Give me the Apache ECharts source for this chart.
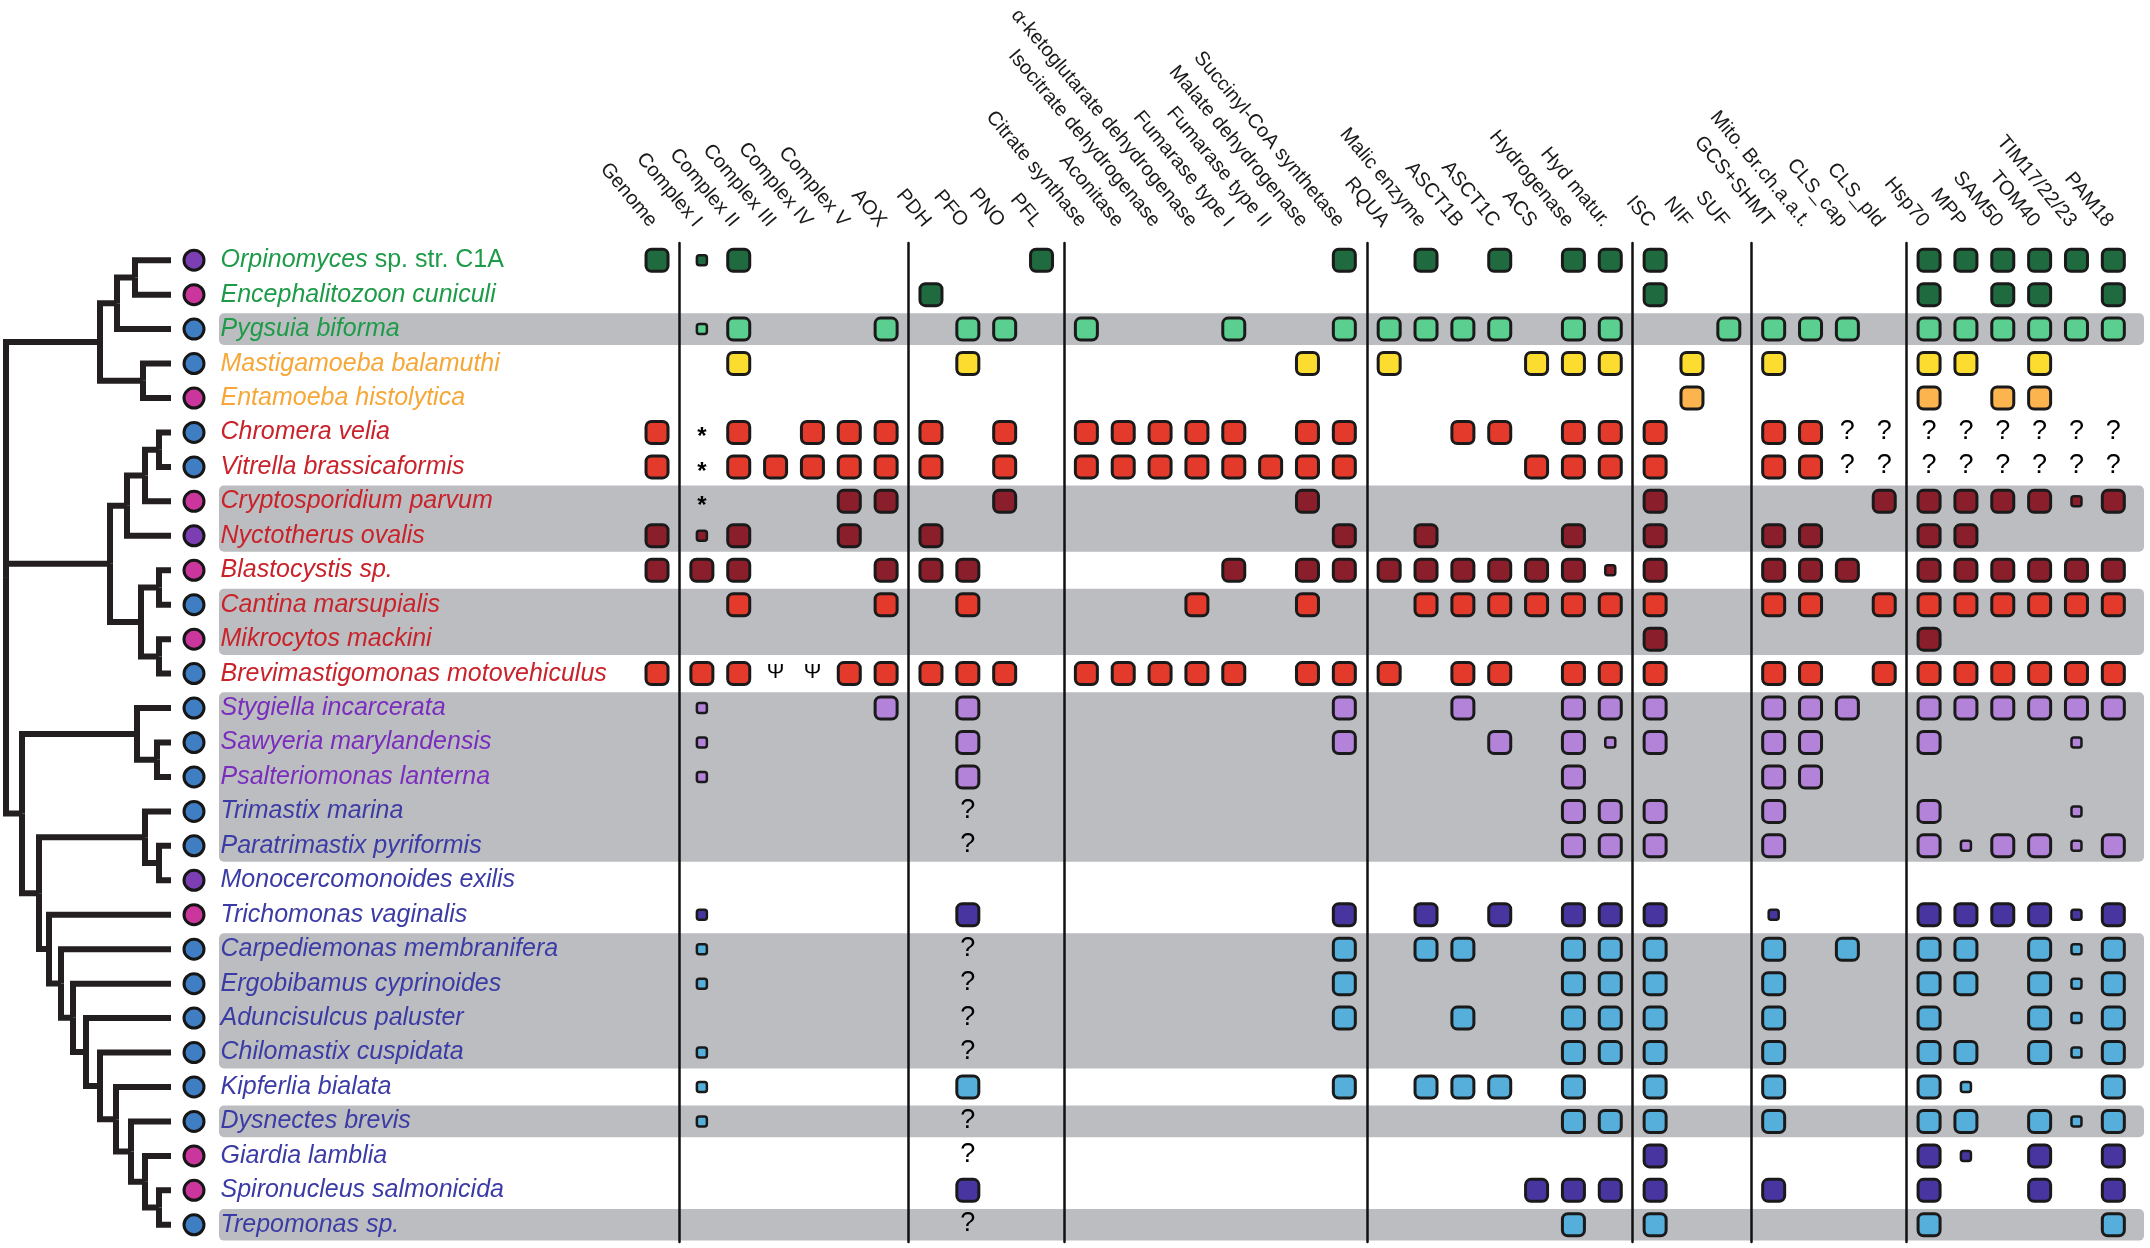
<!DOCTYPE html>
<html>
<head>
<meta charset="utf-8">
<title>Mitochondrial features across eukaryotes</title>
<script src="https://cdn.jsdelivr.net/npm/echarts/dist/echarts.min.js"></script>
<style>
  html, body { margin: 0; padding: 0; background: #fff; }
  #chart { width: 2150px; height: 1248px; }
</style>
</head>
<body>
<div id="chart"></div>
<script>
// column headers, in the order of the matrix, and how they are grouped by the black rules
const columns = ['Genome', 'Complex I', 'Complex II', 'Complex III', 'Complex IV', 'Complex V', 'AOX',
  'PDH', 'PFO', 'PNO', 'PFL',
  'Citrate synthase', 'Aconitase', 'Isocitrate dehydrogenase', 'α-ketoglutarate dehydrogenase',
  'Fumarase type I', 'Fumarase type II', 'Malate dehydrogenase', 'Succinyl-CoA synthetase',
  'RQUA', 'Malic enzyme', 'ASCT1B', 'ASCT1C', 'ACS', 'Hydrogenase', 'Hyd matur.',
  'ISC', 'NIF', 'SUF',
  'GCS+SHMT', 'Mito. Br.ch.a.a.t.', 'CLS_cap', 'CLS_pld',
  'Hsp70', 'MPP', 'SAM50', 'TOM40', 'TIM17/22/23', 'PAM18'];
const groupSizes = [1, 6, 4, 8, 7, 3, 4, 6];

const species = ['Orpinomyces sp. str. C1A', 'Encephalitozoon cuniculi', 'Pygsuia biforma',
  'Mastigamoeba balamuthi', 'Entamoeba histolytica', 'Chromera velia', 'Vitrella brassicaformis',
  'Cryptosporidium parvum', 'Nyctotherus ovalis', 'Blastocystis sp.', 'Cantina marsupialis',
  'Mikrocytos mackini', 'Brevimastigomonas motovehiculus', 'Stygiella incarcerata',
  'Sawyeria marylandensis', 'Psalteriomonas lanterna', 'Trimastix marina', 'Paratrimastix pyriformis',
  'Monocercomonoides exilis', 'Trichomonas vaginalis', 'Carpediemonas membranifera',
  'Ergobibamus cyprinoides', 'Aduncisulcus paluster', 'Chilomastix cuspidata', 'Kipferlia bialata',
  'Dysnectes brevis', 'Giardia lamblia', 'Spironucleus salmonicida', 'Trepomonas sp.'];

// F = present, s = partial (small square), * / Y (psi) / ? = annotations, . = absent
const presence = [
  'F|sF....|...F|.......F|.F.F.FF|F..|....|FFFFFF',
  '.|......|F...|........|.......|F..|....|F.FF.F',
  '.|sF...F|.FF.|F...F..F|FFFF.FF|..F|FFF.|FFFFFF',
  '.|.F....|.F..|......F.|F...FFF|.F.|F...|FF.F..',
  '.|......|....|........|.......|.F.|....|F.FF..',
  'F|*F.FFF|F.F.|FFFFF.FF|..FF.FF|F..|FF??|??????',
  'F|*FFFFF|F.F.|FFFFFFFF|....FFF|F..|FF??|??????',
  '.|*...FF|..F.|......F.|.......|F..|...F|FFFFsF',
  'F|sF..F.|F...|.......F|.F...F.|F..|FF..|FF....',
  'F|FF...F|FF..|....F.FF|FFFFFFs|F..|FFF.|FFFFFF',
  '.|.F...F|.F..|...F..F.|.FFFFFF|F..|FF.F|FFFFFF',
  '.|......|....|........|.......|F..|....|F.....',
  'F|FFYYFF|FFF.|FFFFF.FF|F.FF.FF|F..|FF.F|FFFFFF',
  '.|s....F|.F..|.......F|..F..FF|F..|FFF.|FFFFFF',
  '.|s.....|.F..|.......F|...F.Fs|F..|FF..|F...s.',
  '.|s.....|.F..|........|.....F.|...|FF..|......',
  '.|......|.?..|........|.....FF|F..|F...|F...s.',
  '.|......|.?..|........|.....FF|F..|F...|FsFFsF',
  '.|......|....|........|.......|...|....|......',
  '.|s.....|.F..|.......F|.F.F.FF|F..|s...|FFFFsF',
  '.|s.....|.?..|.......F|.FF..FF|F..|F.F.|FF.FsF',
  '.|s.....|.?..|.......F|.....FF|F..|F...|FF.FsF',
  '.|......|.?..|.......F|..F..FF|F..|F...|F..FsF',
  '.|s.....|.?..|........|.....FF|F..|F...|FF.FsF',
  '.|s.....|.F..|.......F|.FFF.F.|F..|F...|Fs...F',
  '.|s.....|.?..|........|.....FF|F..|F...|FF.FsF',
  '.|......|.?..|........|.......|F..|....|Fs.F.F',
  '.|......|.F..|........|....FFF|F..|F...|F..F.F',
  '.|......|.?..|........|.....F.|F..|....|F....F'
];

const squareColor = ['#1f6b3f', '#1f6b3f', '#5bcf8f', '#fcdc2e', '#fbb44e', '#e33a2b', '#e33a2b',
  '#8a1f2b', '#8a1f2b', '#8a1f2b', '#e33a2b', '#8a1f2b', '#e33a2b', '#b283d8', '#b283d8', '#b283d8',
  '#b283d8', '#b283d8', '#b283d8', '#4935a0', '#56aedb', '#56aedb', '#56aedb', '#56aedb', '#56aedb',
  '#56aedb', '#4935a0', '#4935a0', '#56aedb'];
const nameColor = ['#1e9b48', '#1e9b48', '#1e9b48', '#f6a737', '#f6a737', '#c9222a', '#c9222a',
  '#c9222a', '#c9222a', '#c9222a', '#c9222a', '#c9222a', '#c9222a', '#7a2dbd', '#7a2dbd', '#7a2dbd',
  '#3b3ba5', '#3b3ba5', '#3b3ba5', '#3b3ba5', '#3b3ba5', '#3b3ba5', '#3b3ba5', '#3b3ba5', '#3b3ba5',
  '#3b3ba5', '#3b3ba5', '#3b3ba5', '#3b3ba5'];
// P = purple, M = magenta, B = blue leaf dots
const leafType = 'PMBBMBBMPMBMBBBBBBPMBBBBBBMMB';
const leafColors = { P: '#7b3fb3', M: '#cb369c', B: '#3f7ec2' };
const shaded = [0, 0, 1, 0, 0, 0, 0, 1, 1, 0, 1, 1, 0, 1, 1, 1, 1, 1, 0, 0, 1, 1, 1, 1, 0, 1, 0, 0, 1];

// tree topology; x = depth of each node, leaves are species indices
const tree = { x: 6, kids: [
  { x: 100, kids: [{ x: 117, kids: [{ x: 135, kids: [0, 1] }, 2] }, { x: 143, kids: [3, 4] }] },
  { x: 110, kids: [
    { x: 127, kids: [{ x: 145, kids: [{ x: 159, kids: [5, 6] }, 7] }, 8] },
    { x: 141, kids: [{ x: 159, kids: [9, 10] }, { x: 159, kids: [11, 12] }] }
  ] },
  { x: 22, kids: [
    { x: 137, kids: [13, { x: 157, kids: [14, 15] }] },
    { x: 39, kids: [
      { x: 145, kids: [16, { x: 159, kids: [17, 18] }] },
      { x: 49, kids: [19, { x: 61, kids: [20, { x: 73, kids: [21, { x: 86, kids: [22,
        { x: 100, kids: [23, { x: 116, kids: [24, { x: 131, kids: [25,
          { x: 145, kids: [26, { x: 159, kids: [27, 28] }] }] }] }] }] }] }] }] }
    ] }
  ] }
] };
const tipX = 171;

// ---- layout ----
const plotTop = 243, plotH = 999;
const cell = 36.85, gap = 8, matrixLeft = 638.6;
const font = 'Liberation Sans, Arial, sans-serif';

// tree segments
const treeLines = [];
function place(node) {
  if (typeof node === 'number') return { y: node, x: tipX };
  const kids = node.kids.map(place);
  const y = (kids[0].y + kids[kids.length - 1].y) / 2;
  kids.forEach(k => {
    treeLines.push({ coords: [[node.x, y], [node.x, k.y], [k.x, k.y]] });
  });
  return { y: y, x: node.x };
}
place(tree);

// grey bands from runs of shaded rows
const bands = [];
shaded.forEach((s, i) => {
  if (!s) return;
  if (bands.length && bands[bands.length - 1][1] === i - 1) bands[bands.length - 1][1] = i;
  else bands.push([i, i]);
});

const grids = [
  { left: 0, top: plotTop, width: 194, height: plotH, outerBoundsMode: 'none' },
  { left: 219, right: 6, top: plotTop, height: plotH, outerBoundsMode: 'none' }
];
const xAxes = [
  { gridIndex: 0, type: 'value', min: 0, max: 194, show: false },
  { gridIndex: 1, type: 'value', min: 0, max: 1, show: false }
];
const yAxes = [
  { gridIndex: 0, type: 'value', min: -0.5, max: species.length - 0.5, inverse: true, show: false },
  { gridIndex: 1, type: 'value', min: -0.5, max: species.length - 0.5, inverse: true, show: false }
];

const series = [
  {
    type: 'custom', xAxisIndex: 1, yAxisIndex: 1, z: 1, silent: true,
    data: bands,
    encode: { y: [0, 1] },
    renderItem: function (params, api) {
      const p0 = api.coord([0, api.value(0)]);
      const p1 = api.coord([1, api.value(1)]);
      const half = api.size([0, 1])[1] * 0.46;
      return {
        type: 'rect',
        shape: { x: p0[0], y: p0[1] - half, width: p1[0] - p0[0], height: p1[1] - p0[1] + 2 * half, r: 5 },
        style: { fill: '#bcbdc0' }
      };
    }
  },
  {
    type: 'lines', coordinateSystem: 'cartesian2d', xAxisIndex: 0, yAxisIndex: 0,
    polyline: true, silent: true, z: 2,
    lineStyle: { color: '#231f20', width: 6, opacity: 1, join: 'miter', cap: 'butt' },
    data: treeLines
  },
  {
    type: 'scatter', xAxisIndex: 0, yAxisIndex: 0, clip: false, silent: true, z: 4,
    symbol: 'circle', symbolSize: 20,
    itemStyle: { borderColor: '#161616', borderWidth: 3, opacity: 1 },
    label: { show: true, position: 'right', distance: 15 },
    data: species.map((s, i) => {
      const cut = s.indexOf(' sp. str.');
      const text = cut > 0 ? '{i|' + s.slice(0, cut) + '}{n|' + s.slice(cut) + '}' : '{i|' + s + '}';
      return {
        value: [194, i],
        itemStyle: { color: leafColors[leafType[i]] },
        label: {
          formatter: text,
          rich: {
            i: { fontFamily: font, fontSize: 25, fontStyle: 'italic', color: nameColor[i] },
            n: { fontFamily: font, fontSize: 25, fontStyle: 'normal', color: nameColor[i] }
          }
        }
      };
    })
  }
];

// one grid per column group
let start = 0, left = matrixLeft;
groupSizes.forEach((n, g) => {
  const cols = columns.slice(start, start + n);
  const gi = grids.length;
  grids.push({ left: left, top: plotTop, width: n * cell, height: plotH, outerBoundsMode: 'none' });
  xAxes.push({
    gridIndex: gi, type: 'category', data: cols, position: 'top',
    axisLine: { show: false }, axisTick: { show: false }, splitLine: { show: false },
    axisLabel: {
      interval: 0, rotate: 50, margin: 14, padding: [0, 6, 0, 0],
      fontSize: 20, fontFamily: font, color: '#1a1a1a'
    }
  });
  yAxes.push({
    gridIndex: gi, type: 'category', data: species, inverse: true, offset: gap / 2, z: 10,
    axisLabel: { show: false }, axisTick: { show: false }, splitLine: { show: false },
    axisLine: { show: g > 0, lineStyle: { color: '#111', width: 2.5 } }
  });
  const data = [];
  presence.forEach((row, r) => {
    const marks = row.split('|')[g];
    for (let c = 0; c < n; c++) {
      const m = marks[c];
      if (m === '.') continue;
      const item = { value: [cols[c], species[r]] };
      if (m === 'F' || m === 's') {
        item.symbol = 'roundRect';
        item.symbolSize = m === 'F' ? 22 : 10;
        item.itemStyle = { color: squareColor[r], borderColor: '#1a1a1a', borderWidth: m === 'F' ? 3 : 2.5, opacity: 1 };
      } else {
        item.symbol = 'rect';
        item.symbolSize = 1;
        item.itemStyle = { color: 'rgba(0,0,0,0)', borderWidth: 0, opacity: 1 };
        const txt = m === 'Y' ? 'Ψ' : m;
        item.label = {
          show: true, position: 'inside', formatter: txt, fontFamily: font, color: '#000',
          opacity: 1,
          fontSize: m === '*' ? 24 : (m === 'Y' ? 21 : 27),
          fontWeight: m === '*' ? 'bold' : 'normal',
          offset: m === '*' ? [0, 5] : [0, -1]
        };
      }
      data.push(item);
    }
  });
  series.push({
    type: 'scatter', xAxisIndex: gi, yAxisIndex: gi, silent: true, clip: false, z: 5,
    itemStyle: { opacity: 1 }, data: data
  });
  start += n;
  left += n * cell + gap;
});

const chart = echarts.init(document.getElementById('chart'), null, { renderer: 'canvas' });
chart.setOption({
  backgroundColor: '#ffffff',
  animation: false,
  grid: grids,
  xAxis: xAxes,
  yAxis: yAxes,
  series: series
});
</script>
</body>
</html>
